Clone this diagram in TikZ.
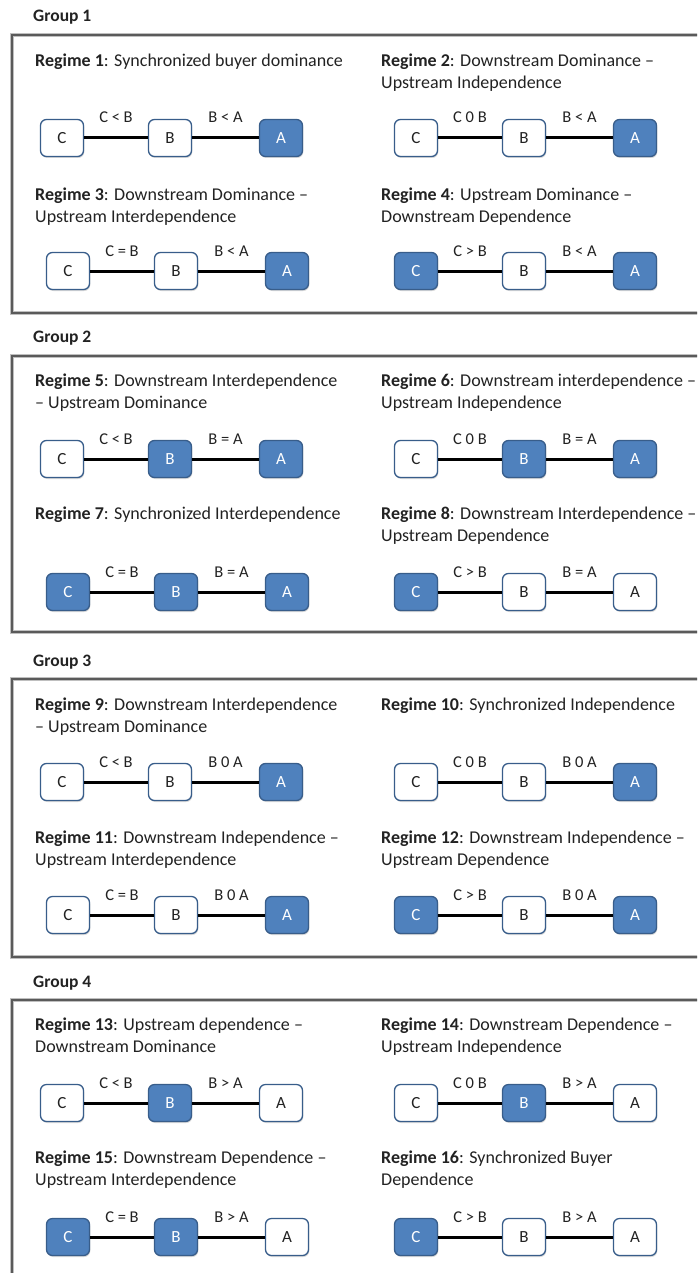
\documentclass[tikz,border=0pt]{standalone}
\usepackage{fontspec}
\setmainfont{Carlito}
\usetikzlibrary{calc,shadows}
\definecolor{boxblue}{HTML}{4F81BD}
\definecolor{boxedge}{HTML}{385D8A}
\definecolor{inktext}{HTML}{222222}
\definecolor{framegray}{HTML}{5A5A5A}

% one chain C -- B -- A with its two relation labels
% #1 prefix, #2 x of C, #3 y, #4/#5/#6 styles of C/B/A, #7/#8 labels
\newcommand\chain[8]{%
  \node[#4] (#1c) at (#2,#3) {C};
  \node[#5] (#1b) at (#2+108,#3) {B};
  \node[#6] (#1a) at (#2+219,#3) {A};
  \draw[link] (#1c.east) -- (#1b.west) node[rel] {#7};
  \draw[link] (#1b.east) -- (#1a.west) node[rel] {#8};
}

\begin{document}
\begin{tikzpicture}[x=1pt,y=-1pt,
  grouplabel/.style={anchor=base west, inner sep=0pt, text=inktext,
    font=\fontsize{17.5}{20}\selectfont\bfseries},
  title/.style={anchor=north west, inner sep=0pt, align=left, text=inktext,
    font=\fontsize{18}{22}\selectfont},
  frame/.style={draw=framegray, line width=1.6pt,
    preaction={draw=black!25, line width=3.2pt}},
  link/.style={line width=3pt, black},
  cell/.style={rounded corners=6pt, minimum width=43pt, minimum height=37pt,
    draw=boxedge, line width=1.3pt, inner sep=0pt,
    font=\fontsize{17}{17}\selectfont,
    drop shadow={shadow xshift=0.8pt, shadow yshift=-1.5pt, opacity=0.3}},
  cellon/.style={cell, fill=boxblue, text=white},
  celloff/.style={cell, fill=white, text=inktext},
  rel/.style={midway, anchor=base, yshift=15pt, inner sep=0pt, text=inktext,
    font=\fontsize{16.5}{17}\selectfont},
]
\useasboundingbox (0,0) rectangle (697,1273);
\clip (0,0) rectangle (697,1273);

% ---------------- Group 1 ----------------
\node[grouplabel] (g1) at (33,22) {Group 1};
\draw[frame] (12,35) rectangle (710,313);
\node[title] (t1) at (35,54) {\textbf{Regime 1}: Synchronized buyer dominance};
\node[title] (t2) at (381,54) {\textbf{Regime 2}: Downstream Dominance –\\Upstream Independence};
\chain{r1}{62}{138}{celloff}{celloff}{cellon}{C < B}{B < A}
\chain{r2}{416}{138}{celloff}{celloff}{cellon}{C 0 B}{B < A}
\node[title] (t3) at (35,188) {\textbf{Regime 3}: Downstream Dominance –\\Upstream Interdependence};
\node[title] (t4) at (381,188) {\textbf{Regime 4}: Upstream Dominance –\\Downstream Dependence};
\chain{r3}{68}{271}{celloff}{celloff}{cellon}{C = B}{B < A}
\chain{r4}{416}{271}{cellon}{celloff}{cellon}{C > B}{B < A}

% ---------------- Group 2 ----------------
\node[grouplabel] (g2) at (33,342) {Group 2};
\draw[frame] (12,356) rectangle (710,632);
\node[title] (t5) at (35,374) {\textbf{Regime 5}: Downstream Interdependence\\– Upstream Dominance};
\node[title] (t6) at (381,374) {\textbf{Regime 6}: Downstream interdependence –\\Upstream Independence};
\chain{r5}{62}{459}{celloff}{cellon}{cellon}{C < B}{B = A}
\chain{r6}{416}{459}{celloff}{cellon}{cellon}{C 0 B}{B = A}
\node[title] (t7) at (35,507) {\textbf{Regime 7}: Synchronized Interdependence};
\node[title] (t8) at (381,507) {\textbf{Regime 8}: Downstream Interdependence –\\Upstream Dependence};
\chain{r7}{68}{592}{cellon}{cellon}{cellon}{C = B}{B = A}
\chain{r8}{416}{592}{cellon}{celloff}{celloff}{C > B}{B = A}

% ---------------- Group 3 ----------------
\node[grouplabel] (g3) at (33,666) {Group 3};
\draw[frame] (12,679) rectangle (710,957);
\node[title] (t9) at (35,698) {\textbf{Regime 9}: Downstream Interdependence\\– Upstream Dominance};
\node[title] (t10) at (381,698) {\textbf{Regime 10}: Synchronized Independence};
\chain{r9}{62}{782}{celloff}{celloff}{cellon}{C < B}{B 0 A}
\chain{r10}{416}{782}{celloff}{celloff}{cellon}{C 0 B}{B 0 A}
\node[title] (t11) at (35,831) {\textbf{Regime 11}: Downstream Independence –\\Upstream Interdependence};
\node[title] (t12) at (381,831) {\textbf{Regime 12}: Downstream Independence –\\Upstream Dependence};
\chain{r11}{68}{915}{celloff}{celloff}{cellon}{C = B}{B 0 A}
\chain{r12}{416}{915}{cellon}{celloff}{cellon}{C > B}{B 0 A}

% ---------------- Group 4 (frame runs past the lower edge) ----------------
\node[grouplabel] (g4) at (33,987) {Group 4};
\draw[frame] (12,1000) rectangle (710,1285);
\node[title] (t13) at (35,1018) {\textbf{Regime 13}: Upstream dependence –\\Downstream Dominance};
\node[title] (t14) at (381,1018) {\textbf{Regime 14}: Downstream Dependence –\\Upstream Independence};
\chain{r13}{62}{1103}{celloff}{cellon}{celloff}{C < B}{B > A}
\chain{r14}{416}{1103}{celloff}{cellon}{celloff}{C 0 B}{B > A}
\node[title] (t15) at (35,1151) {\textbf{Regime 15}: Downstream Dependence –\\Upstream Interdependence};
\node[title] (t16) at (381,1151) {\textbf{Regime 16}: Synchronized Buyer\\Dependence};
\chain{r15}{68}{1237}{cellon}{cellon}{celloff}{C = B}{B > A}
\chain{r16}{416}{1237}{cellon}{celloff}{celloff}{C > B}{B > A}
\end{tikzpicture}
\end{document}
